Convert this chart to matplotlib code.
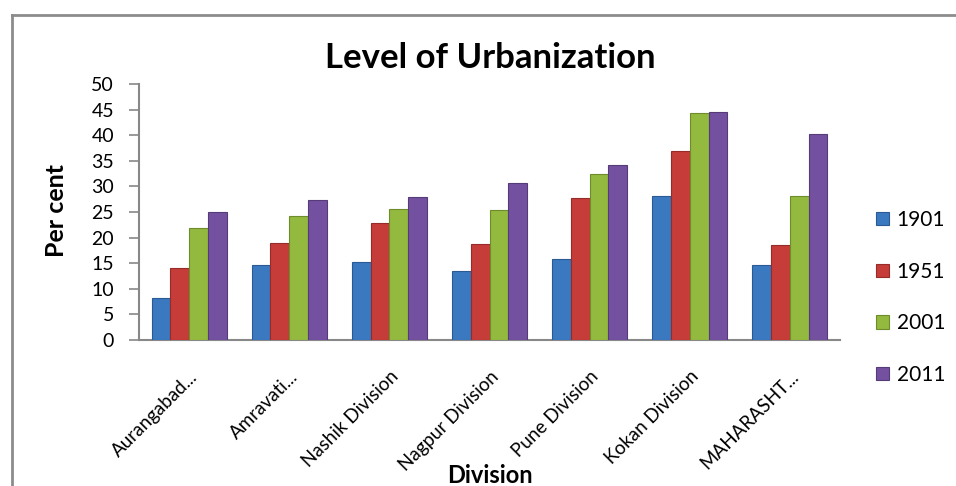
import matplotlib
matplotlib.use("Agg")
import matplotlib.pyplot as plt
from matplotlib.lines import Line2D
import numpy as np

plt.rcParams['font.family'] = ['Lato', 'DejaVu Sans']

categories = ["Aurangabad...", "Amravati...", "Nashik Division", "Nagpur Division",
              "Pune Division", "Kokan Division", "MAHARASHT..."]
series_names = ["1901", "1951", "2001", "2011"]
v1901 = [8.2, 14.6, 15.2, 13.4, 15.8, 28.1, 14.6]
v1951 = [14.1, 18.9, 22.8, 18.7, 27.7, 36.9, 18.5]
v2001 = [21.9, 24.2, 25.5, 25.3, 32.4, 44.3, 28.1]
v2011 = [25.0, 27.3, 27.9, 30.6, 34.1, 44.5, 40.2]
yticks = [0, 5, 10, 15, 20, 25, 30, 35, 40, 45, 50]

colors = ["#3a78c0", "#c63c38", "#93b93e", "#7351a0"]
edges = ["#2a5a93", "#962c2a", "#6e8c2c", "#553c78"]

W, H = 956, 486
fig = plt.figure(figsize=(W / 100, H / 100), dpi=100)
ax = fig.add_axes([139 / W, (H - 340) / H, 701 / W, 256 / H])

x = np.arange(len(categories))
bw = 0.75 / 4
for i, (vals, name) in enumerate(zip([v1901, v1951, v2001, v2011], series_names)):
    ax.bar(x + (i - 1.5) * bw, vals, width=bw, color=colors[i], edgecolor=edges[i],
           linewidth=0.8, label=name, zorder=3)

ax.set_xlim(-0.5, len(categories) - 0.5)
ax.set_ylim(0, 50)
ax.set_yticks(yticks)
ax.set_yticklabels([str(t) for t in yticks], fontsize=14)
ax.set_xticks(x)
ax.set_xticklabels(categories, rotation=45, ha='right', va='top', fontsize=13.5,
                   rotation_mode='anchor')
ax.tick_params(axis='x', length=0, pad=20)
ax.tick_params(axis='y', length=7, width=1.2, color='#888888', pad=11)
for s in ['top', 'right']:
    ax.spines[s].set_visible(False)
for s in ['left', 'bottom']:
    ax.spines[s].set_color('#888888')
    ax.spines[s].set_linewidth(1.5)

ax.set_ylabel("Per cent", fontsize=18, fontweight='bold')
ax.yaxis.set_label_coords((68 - 139) / 701, 0.504)
ax.set_xlabel("Division", fontsize=17, fontweight='bold')
ax.xaxis.set_label_coords(0.5, (340 - 464) / 256)
fig.text(490 / W, 1 - 58 / H, "Level of Urbanization", ha='center', va='center',
         fontsize=25, fontweight='bold')

leg = ax.legend(loc='center left', frameon=False, fontsize=15, handlelength=0.63,
                handleheight=0.63, labelspacing=1.52, handletextpad=0.35, borderaxespad=0)
leg.set_bbox_to_anchor(((868 - 139) / 701, (340 - 297.5) / 256), transform=ax.transAxes)

# outer frame (top and left edges visible)
fig.add_artist(Line2D([12 / W, 12 / W], [0, 1 - 15 / H], transform=fig.transFigure,
                      color='#8c8c8c', linewidth=2))
fig.add_artist(Line2D([12 / W, 1], [1 - 15 / H, 1 - 15 / H], transform=fig.transFigure,
                      color='#8c8c8c', linewidth=2))

fig.savefig("out.png", dpi=100)
